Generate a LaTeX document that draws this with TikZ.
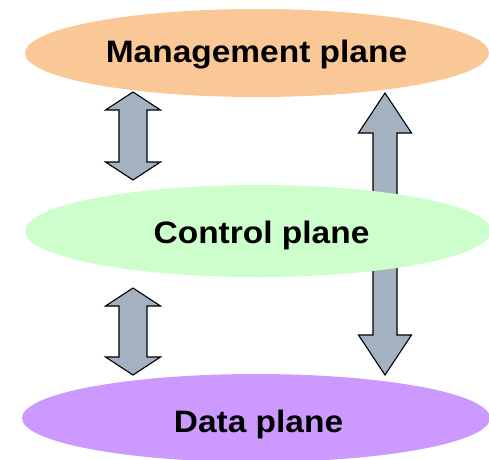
\documentclass[tikz,border=0pt]{standalone}
\usepackage{fontspec}
\setmainfont[FakeStretch=1.08]{Liberation Sans}
\definecolor{mgmt}{RGB}{250,200,150}
\definecolor{ctrl}{RGB}{204,255,204}
\definecolor{datac}{RGB}{204,153,255}
\definecolor{arrowfill}{RGB}{163,177,193}
\begin{document}
\begin{tikzpicture}[x=1pt,y=-1pt,
  plane/.style={fill=#1,draw=none},
  planetext/.style={font=\fontsize{31}{37}\selectfont\bfseries,text=black,anchor=base,inner sep=0pt},
  blockarrow/.style={fill=arrowfill,draw=black,line width=1.1pt,line join=miter}]
\useasboundingbox (0,0) rectangle (489,459);
% management plane
\fill[mgmt] (257,53) ellipse [x radius=232, y radius=44];
\node[planetext] (mgmt) at (256.5,62.5) {Management plane};
% right arrow (behind control plane)
\draw[blockarrow] (385,93) -- (411.5,133) -- (397,133) -- (397,335) -- (411.5,335) -- (385,375)
  -- (358.5,335) -- (373,335) -- (373,133) -- (358.5,133) -- cycle;
% control plane
\fill[ctrl] (258,231) ellipse [x radius=233, y radius=46];
\node[planetext] (ctrl) at (261.5,243) {Control plane};
% left arrows
\draw[blockarrow] (133,92) -- (160.5,110) -- (147,110) -- (147,162) -- (160.5,162) -- (133,180)
  -- (105.5,162) -- (119,162) -- (119,110) -- (105.5,110) -- cycle;
\draw[blockarrow] (133,288) -- (160.5,306) -- (147,306) -- (147,357) -- (160.5,357) -- (133,375)
  -- (105.5,357) -- (119,357) -- (119,306) -- (105.5,306) -- cycle;
% data plane
\fill[datac] (256,418) ellipse [x radius=234, y radius=44];
\node[planetext] (data) at (258.5,432) {Data plane};
\end{tikzpicture}
\end{document}
